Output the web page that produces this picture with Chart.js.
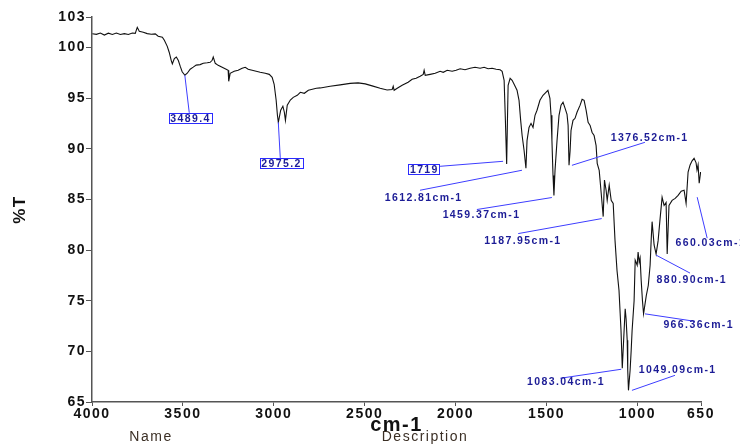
<!DOCTYPE html>
<html><head><meta charset="utf-8">
<script src="https://cdn.jsdelivr.net/npm/chart.js@4.4.0/dist/chart.umd.min.js"></script>
<style>html,body{margin:0;padding:0;background:#fff;} #wrap{width:740px;height:447px;}</style>
</head><body><div id="wrap"><canvas id="c" width="740" height="447"></canvas></div>
<script>
// ---- data ----
const wavenumbers = [3998,3976,3954,3932,3910,3888,3866,3844,3822,3800,3778,3762,3751,3740,3718,3696,3674,3652,3636,3613,3602,3586,3575,3564,3558,3547,3536,3525,3514,3504,3489,3476,3460,3443,3427,3405,3388,3366,3350,3339,3333,3322,3306,3284,3262,3251,3248,3240,3218,3196,3174,3157,3141,3119,3097,3075,3047,3025,3009,2998,2987,2980,2975,2962,2950,2942,2936,2926,2909,2893,2871,2854,2832,2810,2788,2766,2744,2690,2635,2580,2536,2497,2459,2415,2377,2349,2343,2338,2321,2294,2261,2239,2217,2195,2178,2173,2167,2140,2112,2085,2068,2046,2019,1997,1975,1948,1920,1893,1865,1843,1821,1799,1777,1755,1744,1733,1726,1719,1715,1711,1700,1689,1678,1662,1651,1642,1634,1623,1613,1607,1596,1585,1574,1563,1552,1536,1519,1503,1492,1481,1475,1470,1464,1459,1453,1442,1431,1420,1409,1398,1387,1381,1376,1370,1365,1354,1343,1332,1315,1304,1293,1282,1271,1260,1249,1238,1227,1221,1210,1199,1188,1181,1172,1166,1155,1144,1133,1123,1112,1101,1090,1083,1073,1067,1062,1056,1053,1049,1040,1034,1029,1018,1012,1001,996,990,985,979,972,966,951,940,930,924,919,908,897,886,875,864,853,842,836,826,809,792,776,759,743,732,721,710,699,688,677,672,666,660,652];
const transmittance = [101.34,101.29,101.42,101.22,101.40,101.28,101.42,101.27,101.36,101.28,101.42,101.38,101.98,101.59,101.49,101.36,101.30,101.33,101.10,101.00,100.70,100.10,99.50,98.70,98.38,98.90,99.05,98.70,98.10,97.60,97.25,97.45,97.85,98.05,98.25,98.30,98.43,98.48,98.53,98.73,99.05,98.43,98.23,98.03,97.84,97.74,96.65,97.44,97.64,97.74,97.94,98.04,97.84,97.74,97.64,97.54,97.44,97.34,97.05,96.36,94.78,93.30,92.60,93.80,94.20,93.60,92.80,94.30,94.80,95.07,95.27,95.57,95.47,95.77,95.87,95.96,96.00,96.16,96.30,96.45,96.50,96.40,96.20,95.96,95.80,95.85,96.16,95.77,95.96,96.26,96.56,96.85,96.95,97.15,97.34,97.74,97.24,97.34,97.44,97.64,97.54,97.74,97.64,97.74,97.89,97.79,97.94,98.04,97.94,98.04,97.89,97.94,97.84,97.79,97.64,96.75,92.80,88.50,92.50,96.26,96.95,96.75,96.36,95.77,94.78,92.80,91.30,89.80,88.07,90.80,92.10,92.50,92.10,93.30,93.80,94.78,95.27,95.57,95.77,94.98,93.30,90.80,87.35,85.38,87.85,90.80,93.30,94.29,94.58,94.00,93.40,92.30,88.36,89.80,91.80,92.80,93.00,93.60,94.30,94.88,94.78,93.80,92.60,92.30,91.60,91.30,90.30,88.56,87.86,85.60,83.30,86.90,85.90,84.90,86.40,84.90,84.60,80.95,77.98,76.00,72.05,68.33,72.05,74.20,73.20,71.10,68.13,66.15,68.13,70.10,72.05,75.00,79.00,78.50,79.80,78.80,79.20,77.00,75.00,73.70,75.50,76.50,78.50,81.00,82.80,80.50,79.60,80.90,83.10,85.20,84.40,84.70,79.60,84.40,84.90,85.10,85.40,85.80,85.90,84.60,87.70,88.40,88.80,89.05,88.60,87.90,88.40,86.60,87.70];
const xTickValues = [4000,3500,3000,2500,2000,1500,1000,650];
const yTickValues = [65,70,75,80,85,90,95,100,103];
const peakLabels = ['3489.4','2975.2','1719','1612.81cm-1','1459.37cm-1','1376.52cm-1','1187.95cm-1','1083.04cm-1','1049.09cm-1','966.36cm-1','880.90cm-1','660.03cm-1'];
const peakWn = [3489.4,2975.2,1719,1612.81,1459.37,1376.52,1187.95,1083.04,1049.09,966.36,880.90,660.03];
const peakT = [97.25,92.6,88.5,88.07,85.38,88.36,83.3,68.33,66.15,73.7,79.6,86.6];
const peakBoxed = [true,true,true,false,false,false,false,false,false,false,false,false];

// ---- annotation layout (pixel offsets from the peak point) ----
// [textDx, textDy, lineStartDx, lineStartDy, lineEndDx, lineEndDy]
const labelLayout = [
  [5,43, 0,0, 4.5,38],
  [2.5,41, 0,0, 2,36],
  [-83,5.5, -3.6,-2.6, -66.6,2.4],
  [-103,29, -4,2, -106,22],
  [-73,19, -2,2, -77,14],
  [80,-28, 3,0, 76,-23],
  [-81,24, -1.5,2, -85,17],
  [-57,13, -1,1, -62,10],
  [48.5,-21, 3.5,0, 46.5,-15],
  [54.5,10.5, 1.5,0, 51.5,7.5],
  [32,26, -3,1, 31,19],
  [11,59, -2,14, 8,55]
];

const FONT = "'Liberation Sans', Arial, sans-serif";

const decorPlugin = {
  id: 'decor',
  beforeDraw(chart) { chart.ctx.letterSpacing = '1.5px'; },
  beforeDatasetsDraw(chart) { chart.ctx.letterSpacing = '0px'; },
  afterDraw(chart) {
    const ctx = chart.ctx;
    const xs = chart.scales.x, ys = chart.scales.y;
    ctx.save();
    ctx.strokeStyle = '#3d3dff';
    ctx.lineWidth = 1;
    peakWn.forEach((w, i) => {
      const px = xs.getPixelForValue(w), py = ys.getPixelForValue(peakT[i]);
      const L = labelLayout[i];
      ctx.beginPath();
      ctx.moveTo(px + L[2], py + L[3]);
      ctx.lineTo(px + L[4], py + L[5]);
      ctx.stroke();
    });
    ctx.font = 'bold 10.5px ' + FONT;
    ctx.letterSpacing = '1.4px';
    ctx.textAlign = 'center';
    ctx.textBaseline = 'middle';
    peakLabels.forEach((t, i) => {
      const px = xs.getPixelForValue(peakWn[i]), py = ys.getPixelForValue(peakT[i]);
      const L = labelLayout[i];
      const cx = px + L[0], cy = py + L[1];
      if (peakBoxed[i]) {
        const w = ctx.measureText(t).width + 2;
        ctx.fillStyle = '#ffffff';
        ctx.fillRect(cx - w / 2, cy - 5.5, w, 11);
        ctx.strokeStyle = '#2b2bff';
        ctx.strokeRect(Math.round(cx - w / 2) + 0.5, Math.round(cy - 5.5) + 0.5, Math.round(w), 10);
      }
      ctx.fillStyle = '#1c1c96';
      ctx.fillText(t, cx + 0.7, cy + 0.5);
    });
    ctx.font = '14px ' + FONT;
    ctx.letterSpacing = '1.5px';
    ctx.fillStyle = '#3b2f25';
    ctx.fillText('Name', 151, 437);
    ctx.fillText('Description', 425, 437);
    ctx.restore();
  }
};

new Chart(document.getElementById('c').getContext('2d'), {
  type: 'line',
  data: {
    datasets: [{
      data: wavenumbers.map((w, i) => ({ x: w, y: transmittance[i] })),
      borderColor: '#111111', borderWidth: 1.1, pointRadius: 0, tension: 0, fill: false
    }]
  },
  options: {
    responsive: false, animation: false, events: [],
    layout: { padding: { top: 17, right: 39, left: 0, bottom: 0 } },
    plugins: { legend: { display: false }, tooltip: { enabled: false } },
    scales: {
      x: {
        type: 'linear', reverse: true, min: 650, max: 4000,
        afterBuildTicks: s => { s.ticks = xTickValues.map(v => ({ value: v })); },
        afterFit: s => { s.height = 45; },
        grid: { drawOnChartArea: false, drawTicks: true, tickLength: 4, color: '#555', lineWidth: 1 },
        border: { display: true, color: '#555', width: 1.5 },
        ticks: { color: '#111', font: { family: FONT, size: 14, weight: 'bold' }, padding: 0, maxRotation: 0, autoSkip: false, callback: v => String(v) },
        title: { display: true, text: 'cm-1', color: '#111', font: { family: FONT, size: 20, weight: 'bold' }, padding: { top: 0, bottom: 10 } }
      },
      y: {
        min: 65, max: 103,
        afterBuildTicks: s => { s.ticks = yTickValues.map(v => ({ value: v })); },
        afterFit: s => { s.width = 92; },
        grid: { drawOnChartArea: false, drawTicks: true, tickLength: 6, color: '#555', lineWidth: 1 },
        border: { display: true, color: '#555', width: 1.5 },
        ticks: { color: '#111', font: { family: FONT, size: 14, weight: 'bold' }, padding: 0, autoSkip: false, callback: v => String(v) },
        title: { display: true, text: '%T', color: '#111', font: { family: FONT, size: 17, weight: 'bold' }, padding: { top: 10, bottom: 0 } }
      }
    }
  },
  plugins: [decorPlugin]
});
</script>
</body></html>
